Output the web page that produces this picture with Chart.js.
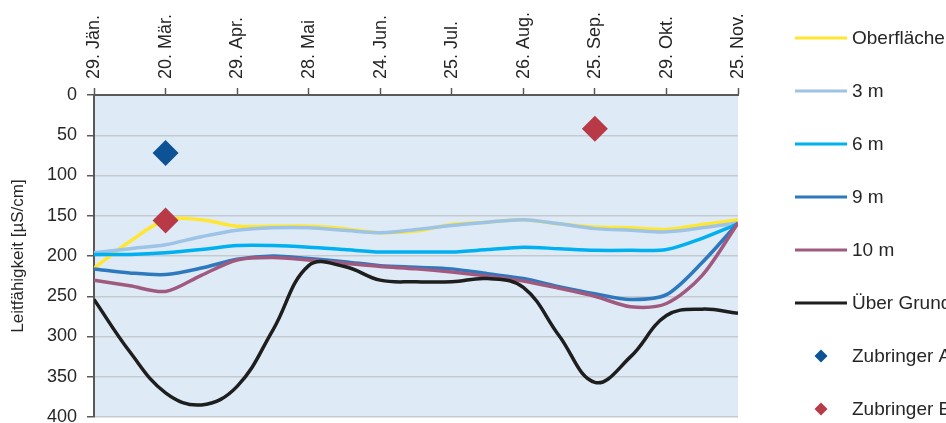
<!DOCTYPE html>
<html>
<head>
<meta charset="utf-8">
<script src="https://cdn.jsdelivr.net/npm/chart.js@4/dist/chart.umd.min.js"></script>
<style>
  body { margin: 0; background: #fff; }
  .frame { width: 946px; height: 423px; overflow: hidden; position: relative; }
  canvas { position: absolute; left: 0; top: 0; }
</style>
</head>
<body>
<div class="frame">
  <canvas id="chart" width="1000" height="440"></canvas>
</div>
<script>
// date labels on the top axis (one per tick)
const tickLabels = ['29. Jän.', '20. Mär.', '29. Apr.', '28. Mai', '24. Jun.', '25. Jul.', '26. Aug.', '25. Sep.', '29. Okt.', '25. Nov.'];

// measured values, one every half tick interval
const oberflaeche = [215, 182, 155, 155, 163, 163, 163, 166, 171, 169, 161, 158, 155, 160, 164, 165, 167, 161, 155];
const tiefe3m = [196, 191, 186, 176, 168, 165, 165, 168, 171, 167, 162, 158, 155, 160, 166, 168, 170, 165, 159];
const tiefe6m = [198, 198, 196, 192, 187, 187, 189, 192, 195, 195, 195, 192, 189, 191, 193, 193, 192, 178, 160];
const tiefe9m = [216, 221, 223, 215, 204, 200, 203, 207, 212, 214, 216, 222, 228, 238, 247, 254, 248, 208, 159];
const tiefe10m = [230, 237, 244, 224, 205, 202, 205, 209, 213, 216, 220, 225, 231, 240, 250, 263, 259, 224, 159];
const ueberGrund = [254, 319, 370, 385, 362, 292, 212, 213, 230, 232, 232, 228, 239, 299, 357, 325, 274, 266, 271];

// tributaries: [tick index, value]
const zubringerA = [[1, 72]];
const zubringerB = [[1, 156], [7, 42]];

const toPoints = arr => arr.map((v, i) => ({ x: i / 2, y: v }));
const toScatter = arr => arr.map(p => ({ x: p[0], y: p[1] }));

const FONT = '"Liberation Sans", Arial, sans-serif';
const TEXT = '#262626';
const AXIS = '#595959';

function lineSet(label, values, color, order, tension) {
  return {
    label: label,
    data: toPoints(values),
    borderColor: color,
    backgroundColor: color,
    borderWidth: 3.5,
    pointRadius: 0,
    tension: tension,
    order: order
  };
}

function diamondSet(label, values, color) {
  return {
    label: label,
    data: toScatter(values),
    showLine: false,
    pointStyle: 'rectRot',
    pointRadius: 13,
    borderWidth: 0,
    borderColor: color,
    backgroundColor: color,
    order: 0
  };
}

const plotBackground = {
  id: 'plotBackground',
  beforeDraw(chart) {
    const { ctx, chartArea: a } = chart;
    ctx.save();
    ctx.fillStyle = '#DEEBF7';
    ctx.fillRect(a.left, a.top, a.right - a.left, a.bottom - a.top);
    ctx.restore();
  }
};

// legend drawn by hand so it sits where the original has it
const sideLegend = {
  id: 'sideLegend',
  afterDraw(chart) {
    const ctx = chart.ctx;
    ctx.save();
    ctx.font = '19px ' + FONT;
    ctx.textBaseline = 'middle';
    ctx.fillStyle = TEXT;
    chart.data.datasets.forEach((ds, i) => {
      const y = 38 + i * 53;
      if (ds.showLine === false) {
        ctx.fillStyle = ds.backgroundColor;
        ctx.beginPath();
        ctx.moveTo(821 - 6.5, y);
        ctx.lineTo(821, y - 6.5);
        ctx.lineTo(821 + 6.5, y);
        ctx.lineTo(821, y + 6.5);
        ctx.closePath();
        ctx.fill();
      } else {
        ctx.strokeStyle = ds.borderColor;
        ctx.lineWidth = 3;
        ctx.beginPath();
        ctx.moveTo(795, y);
        ctx.lineTo(847, y);
        ctx.stroke();
      }
      ctx.fillStyle = TEXT;
      ctx.fillText(ds.label, 852, y + 1);
    });
    ctx.restore();
  }
};

new Chart(document.getElementById('chart'), {
  type: 'line',
  data: {
    datasets: [
      lineSet('Oberfläche', oberflaeche, '#FFE633', 6, 0.3),
      lineSet('3 m', tiefe3m, '#9DC3E6', 5, 0.3),
      lineSet('6 m', tiefe6m, '#00B0F0', 4, 0.3),
      lineSet('9 m', tiefe9m, '#2E78BE', 3, 0.3),
      lineSet('10 m', tiefe10m, '#A05A80', 2, 0.3),
      lineSet('Über Grund', ueberGrund, '#1E1E1E', 1, 0.4),
      diamondSet('Zubringer A', zubringerA, '#0D5294'),
      diamondSet('Zubringer B', zubringerB, '#B83A47')
    ]
  },
  options: {
    responsive: false,
    animation: false,
    layout: { padding: { left: 0, top: 0, right: 262, bottom: 23 } },
    plugins: {
      legend: { display: false },
      tooltip: { enabled: false }
    },
    scales: {
      x: {
        type: 'linear',
        position: 'top',
        min: 0,
        max: 9,
        afterFit(scale) { scale.height = 95; },
        border: { color: AXIS, width: 2 },
        grid: { drawOnChartArea: false, tickLength: 7, tickColor: AXIS, tickWidth: 1.5 },
        ticks: {
          stepSize: 1,
          autoSkip: false,
          minRotation: 90,
          maxRotation: 90,
          padding: 9,
          labelOffset: 22,
          color: TEXT,
          font: { family: FONT, size: 18 },
          callback: v => tickLabels[v]
        }
      },
      y: {
        reverse: true,
        min: 0,
        max: 400,
        afterFit(scale) { scale.width = 94; },
        border: { color: AXIS, width: 2 },
        grid: { color: '#C5CACF', lineWidth: 1.5, tickLength: 7, tickColor: AXIS, tickWidth: 1.5 },
        ticks: {
          stepSize: 50,
          padding: 10,
          color: TEXT,
          font: { family: FONT, size: 18 }
        },
        title: {
          display: true,
          text: 'Leitfähigkeit [µS/cm]',
          color: TEXT,
          font: { family: FONT, size: 17 },
          padding: { top: 8, bottom: 0 }
        }
      }
    }
  },
  plugins: [plotBackground, sideLegend]
});
</script>
</body>
</html>
